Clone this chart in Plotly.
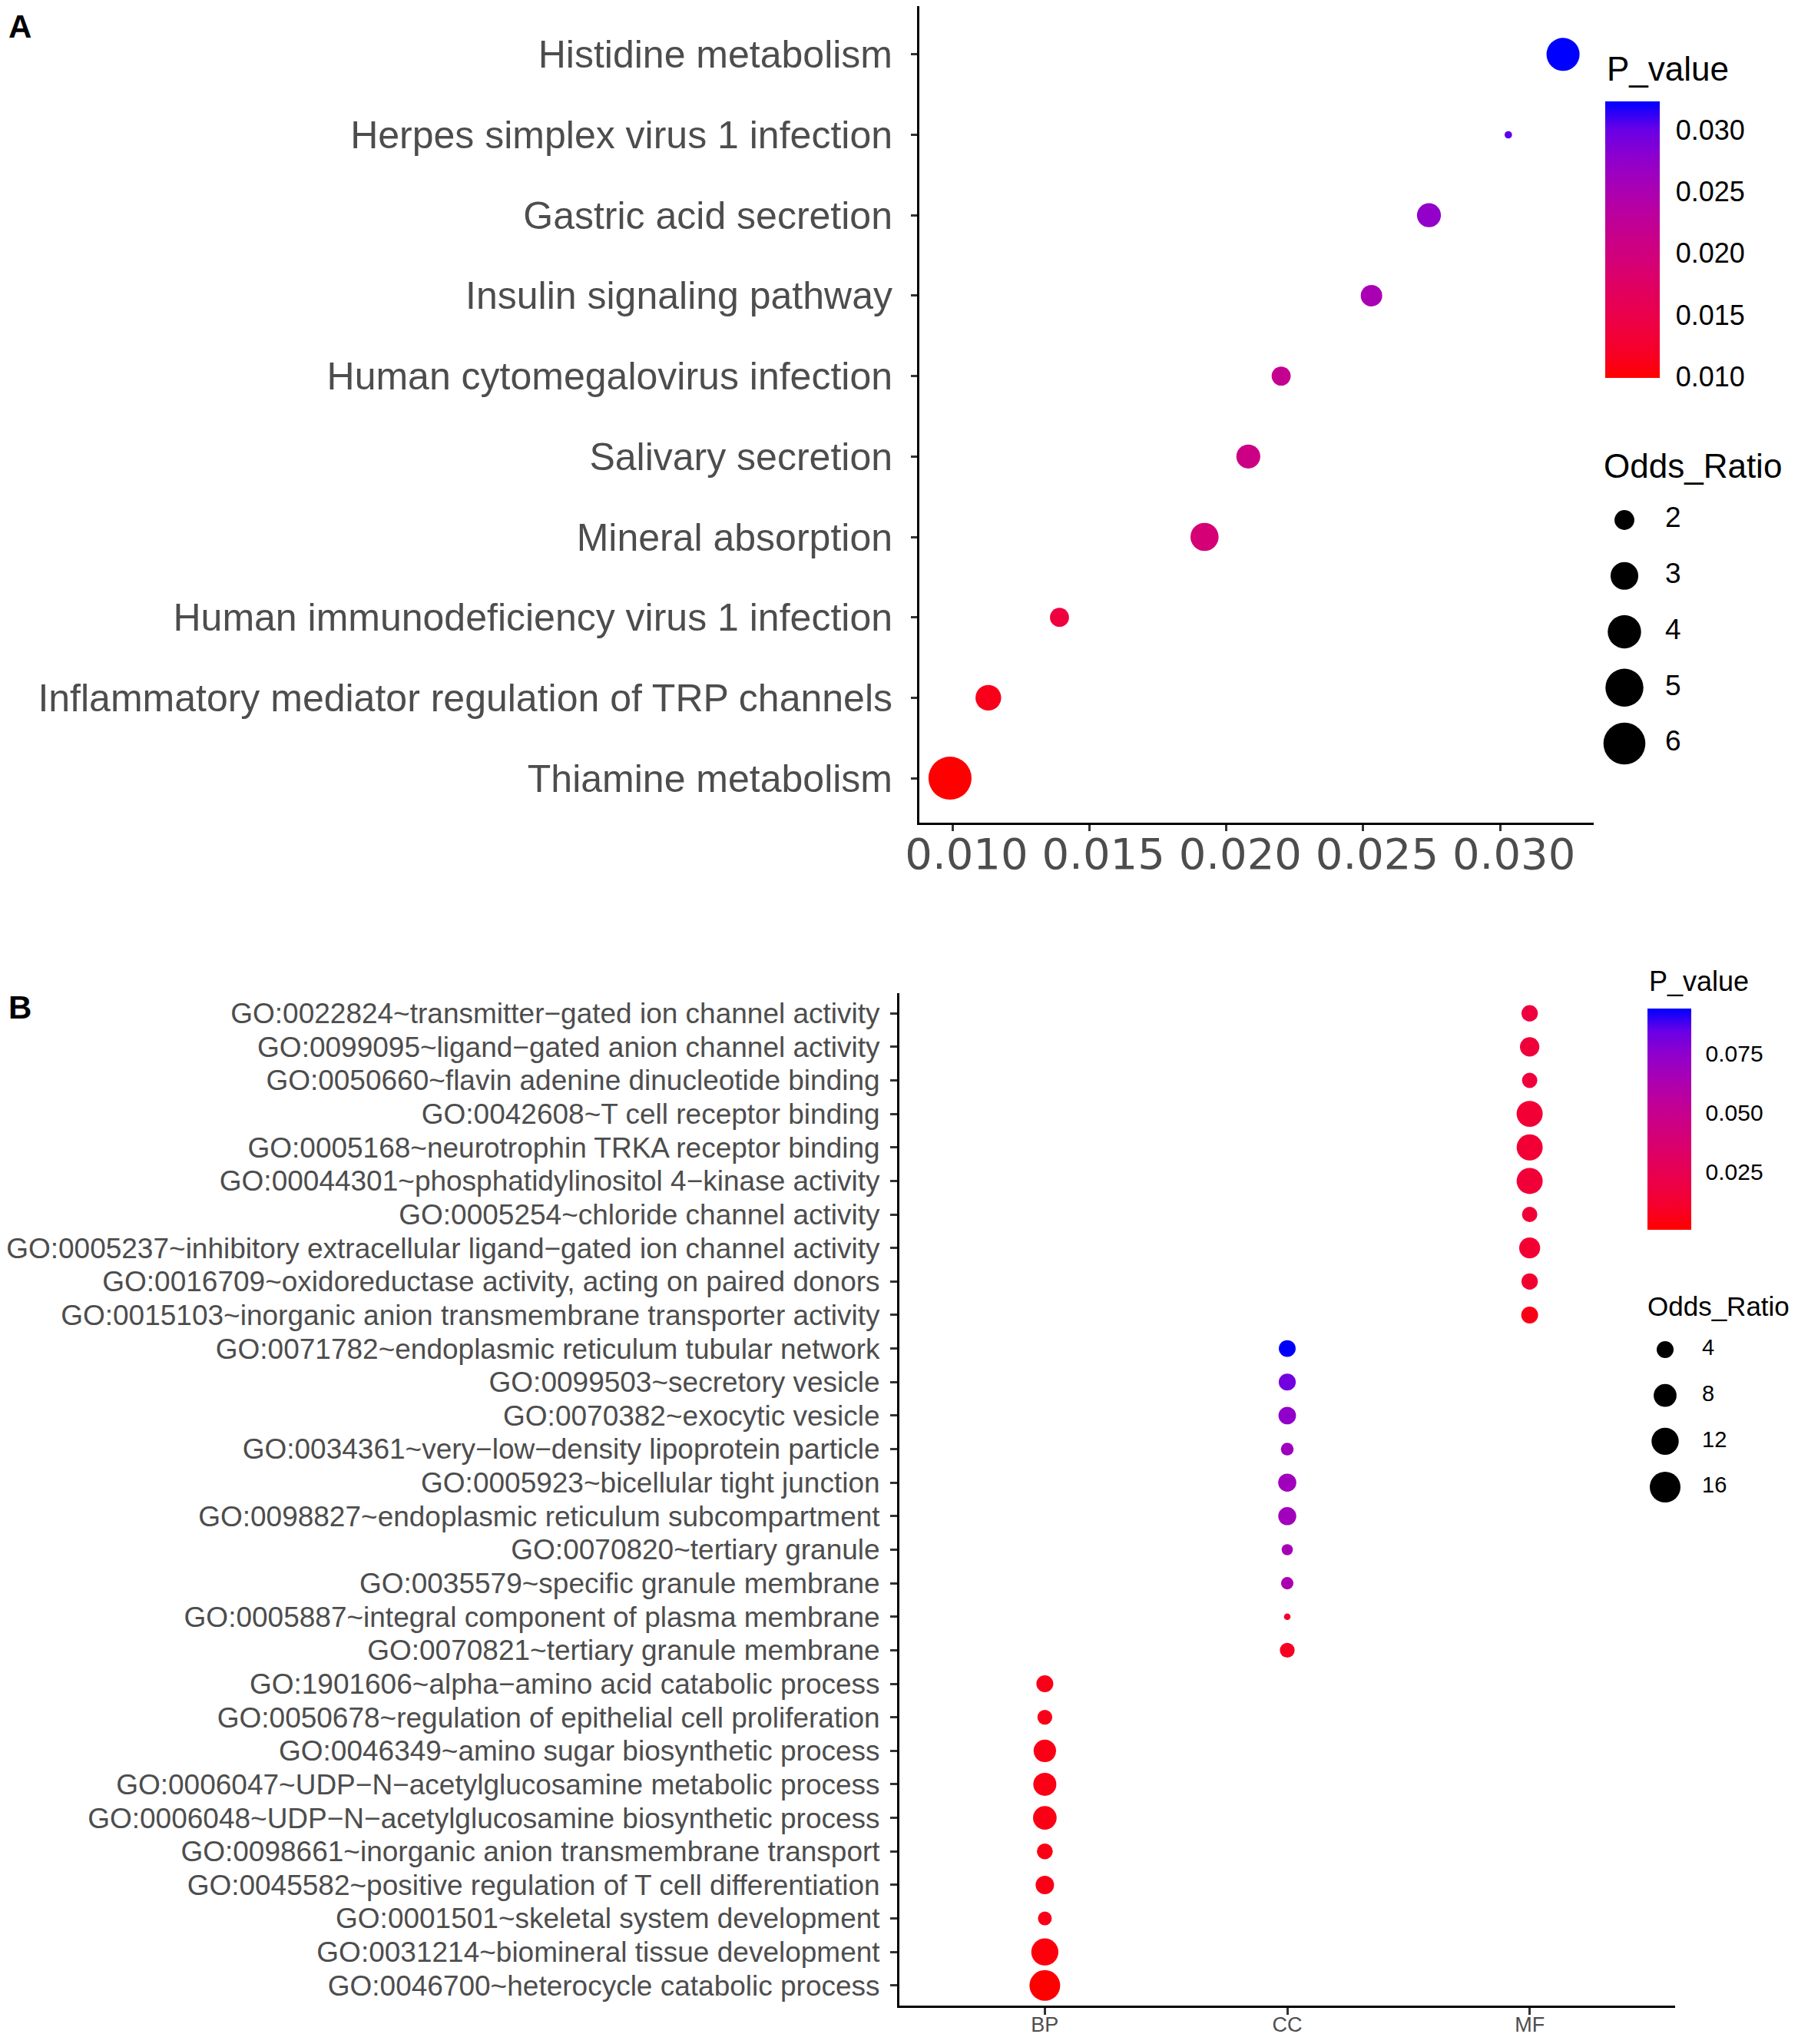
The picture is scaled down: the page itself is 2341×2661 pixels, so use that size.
import math
import plotly.graph_objects as go

# ---- panel A: KEGG pathways (top to bottom) ----
pathways = [
    "Histidine metabolism",
    "Herpes simplex virus 1 infection",
    "Gastric acid secretion",
    "Insulin signaling pathway",
    "Human cytomegalovirus infection",
    "Salivary secretion",
    "Mineral absorption",
    "Human immunodeficiency virus 1 infection",
    "Inflammatory mediator regulation of TRP channels",
    "Thiamine metabolism",
]
pathway_p = [0.0323, 0.0303, 0.0274, 0.0253, 0.0220, 0.0208, 0.0192, 0.0139, 0.0113, 0.0099]
pathway_or = [3.95, 1.41, 2.46, 2.17, 1.93, 2.46, 3.06, 1.93, 2.69, 6.29]
pathway_xticks = [0.010, 0.015, 0.020, 0.025, 0.030]
pathway_cbar_ticks = [0.010, 0.015, 0.020, 0.025, 0.030]
pathway_or_keys = [2, 3, 4, 5, 6]

# ---- panel B: GO terms (top to bottom) ----
mf_terms = [
    "GO:0022824~transmitter\u2212gated ion channel activity",
    "GO:0099095~ligand\u2212gated anion channel activity",
    "GO:0050660~flavin adenine dinucleotide binding",
    "GO:0042608~T cell receptor binding",
    "GO:0005168~neurotrophin TRKA receptor binding",
    "GO:00044301~phosphatidylinositol 4\u2212kinase activity",
    "GO:0005254~chloride channel activity",
    "GO:0005237~inhibitory extracellular ligand\u2212gated ion channel activity",
    "GO:0016709~oxidoreductase activity, acting on paired donors",
    "GO:0015103~inorganic anion transmembrane transporter activity",
]
mf_p = [0.017, 0.016, 0.016, 0.014, 0.014, 0.015, 0.015, 0.013, 0.012, 0.005]
mf_or = [3.73, 5.48, 3.26, 10.9, 10.9, 10.9, 3.26, 6.53, 3.73, 4.0]

cc_terms = [
    "GO:0071782~endoplasmic reticulum tubular network",
    "GO:0099503~secretory vesicle",
    "GO:0070382~exocytic vesicle",
    "GO:0034361~very\u2212low\u2212density lipoprotein particle",
    "GO:0005923~bicellular tight junction",
    "GO:0098827~endoplasmic reticulum subcompartment",
    "GO:0070820~tertiary granule",
    "GO:0035579~specific granule membrane",
    "GO:0005887~integral component of plasma membrane",
    "GO:0070821~tertiary granule membrane",
]
cc_p = [0.094, 0.082, 0.074, 0.069, 0.068, 0.068, 0.066, 0.064, 0.011, 0.008]
cc_or = [3.96, 4.08, 4.33, 2.28, 4.63, 4.63, 1.87, 2.19, 1.33, 3.00]

bp_terms = [
    "GO:1901606~alpha\u2212amino acid catabolic process",
    "GO:0050678~regulation of epithelial cell proliferation",
    "GO:0046349~amino sugar biosynthetic process",
    "GO:0006047~UDP\u2212N\u2212acetylglucosamine metabolic process",
    "GO:0006048~UDP\u2212N\u2212acetylglucosamine biosynthetic process",
    "GO:0098661~inorganic anion transmembrane transport",
    "GO:0045582~positive regulation of T cell differentiation",
    "GO:0001501~skeletal system development",
    "GO:0031214~biomineral tissue development",
    "GO:0046700~heterocycle catabolic process",
]
bp_p = [0.006, 0.006, 0.005, 0.005, 0.005, 0.005, 0.005, 0.006, 0.003, 0.0006]
bp_or = [4.0, 3.04, 7.71, 8.14, 8.6, 3.51, 4.86, 2.64, 11.94, 16.0]

go_classes = ["BP", "CC", "MF"]
go_cbar_ticks = [0.025, 0.050, 0.075]
go_or_keys = [4, 8, 12, 16]

# the page has an 8px body margin, so the figure is made smaller to fit the window
PAGE_W, PAGE_H = 2341, 2661
OFF = 8
W, H = PAGE_W - 2 * OFF, PAGE_H - 2 * OFF
FONT = "Liberation Sans, Arial, sans-serif"
GREY = "#4d4d4d"


def fx(px):
    return (px - OFF) / W


def fy(px):
    return 1 - (px - OFF) / H


# red -> blue gradient interpolated in Lab, like ggplot's scale_colour_gradient
def _lin(c):
    c = c / 255
    return c / 12.92 if c <= 0.04045 else ((c + 0.055) / 1.055) ** 2.4


def _f(t):
    return t ** (1 / 3) if t > 0.008856 else 7.787 * t + 16 / 116


def _finv(t):
    return t ** 3 if t ** 3 > 0.008856 else (t - 16 / 116) / 7.787


def rgb_to_lab(rgb):
    r, g, b = (_lin(c) for c in rgb)
    x = (0.4124 * r + 0.3576 * g + 0.1805 * b) / 0.95047
    y = 0.2126 * r + 0.7152 * g + 0.0722 * b
    z = (0.0193 * r + 0.1192 * g + 0.9505 * b) / 1.08883
    return 116 * _f(y) - 16, 500 * (_f(x) - _f(y)), 200 * (_f(y) - _f(z))


def lab_to_rgb(L, a, b):
    fy_ = (L + 16) / 116
    x = _finv(fy_ + a / 500) * 0.95047
    y = _finv(fy_)
    z = _finv(fy_ - b / 200) * 1.08883
    r = 3.2406 * x - 1.5372 * y - 0.4986 * z
    g = -0.9689 * x + 1.8758 * y + 0.0415 * z
    bl = 0.0557 * x - 0.2040 * y + 1.0570 * z

    def gam(c):
        c = c * 12.92 if c <= 0.0031308 else 1.055 * max(c, 0) ** (1 / 2.4) - 0.055
        return int(round(min(max(c, 0), 1) * 255))

    return "rgb(%d,%d,%d)" % (gam(r), gam(g), gam(bl))


lo_lab = rgb_to_lab((255, 0, 0))
hi_lab = rgb_to_lab((0, 0, 255))
red_blue = []
for i in range(11):
    t = i / 10
    red_blue.append([t, lab_to_rgb(*[lo_lab[k] + (hi_lab[k] - lo_lab[k]) * t for k in range(3)])])


# ggplot-like area scale for point size
def dot_size(v, vals, dmin, dmax):
    lo, hi = min(vals), max(vals)
    return dmin + (dmax - dmin) * math.sqrt(max(v - lo, 0) / (hi - lo))


A_DMIN, A_DMAX = 9.7, 56
B_DMIN, B_DMAX = 8.6, 40

go_terms = mf_terms + cc_terms + bp_terms
go_p = mf_p + cc_p + bp_p
go_or = mf_or + cc_or + bp_or
go_class = ["MF"] * len(mf_terms) + ["CC"] * len(cc_terms) + ["BP"] * len(bp_terms)

fig = go.Figure()

fig.add_trace(go.Scatter(
    x=pathway_p, y=pathways, mode="markers",
    marker=dict(size=[dot_size(v, pathway_or, A_DMIN, A_DMAX) for v in pathway_or],
                color=pathway_p, coloraxis="coloraxis", line_width=0, opacity=1),
    xaxis="x", yaxis="y", showlegend=False,
))

fig.add_trace(go.Scatter(
    x=go_class, y=go_terms, mode="markers",
    marker=dict(size=[dot_size(v, go_or, B_DMIN, B_DMAX) for v in go_or],
                color=go_p, coloraxis="coloraxis2", line_width=0, opacity=1),
    xaxis="x2", yaxis="y2", showlegend=False,
))

# size legends
for keys, vals, dmin, dmax, xa, ya, fs in [
    (pathway_or_keys, pathway_or, A_DMIN, A_DMAX, "x3", "y3", 37),
    (go_or_keys, go_or, B_DMIN, B_DMAX, "x4", "y4", 29),
]:
    fig.add_trace(go.Scatter(
        x=[0] * len(keys), y=list(range(len(keys))), mode="markers",
        marker=dict(size=[dot_size(k, vals, dmin, dmax) for k in keys], color="black",
                    line_width=0, opacity=1),
        xaxis=xa, yaxis=ya, showlegend=False, cliponaxis=False, hoverinfo="skip",
    ))
    fig.add_trace(go.Scatter(
        x=[1] * len(keys), y=list(range(len(keys))), mode="text",
        text=[str(k) for k in keys], textposition="middle right",
        textfont=dict(family=FONT, size=fs, color="black"),
        xaxis=xa, yaxis=ya, showlegend=False, cliponaxis=False, hoverinfo="skip",
    ))

pad_a = 0.05 * (max(pathway_p) - min(pathway_p))

axis_common = dict(showgrid=False, zeroline=False, showline=True, linecolor="black",
                   ticks="outside", tickcolor="#333333", automargin=False)
hidden = dict(visible=False, automargin=False, showgrid=False, zeroline=False)

fig.update_layout(
    template="none",
    width=W, height=H,
    margin=dict(l=0, r=0, t=0, b=0, pad=0),
    paper_bgcolor="white", plot_bgcolor="white",
    showlegend=False,
    font=dict(family=FONT, color="black"),
    xaxis=dict(domain=[fx(1197), fx(2075)], anchor="y",
               range=[min(pathway_p) - pad_a, max(pathway_p) + pad_a],
               tickvals=pathway_xticks, ticktext=["%.3f" % v for v in pathway_xticks],
               linewidth=3, ticklen=8, tickwidth=3, ticklabelstandoff=-18,
               ticklabelshift=18,
               tickfont=dict(family="DejaVu Sans", size=56, color=GREY),
               **axis_common),
    yaxis=dict(domain=[fy(1071), fy(8)], anchor="x",
               type="category", categoryarray=pathways[::-1],
               tickmode="array", tickvals=pathways,
               range=[-0.6 + 5 / 106.8, len(pathways) - 0.4],
               linewidth=3, ticklen=8, tickwidth=3, ticklabelstandoff=14,
               tickfont=dict(family=FONT, size=50, color=GREY),
               **axis_common),
    xaxis2=dict(domain=[fx(1171), fx(2181)], anchor="y2",
                type="category", categoryarray=go_classes,
                tickmode="array", tickvals=go_classes,
                range=[-0.6, len(go_classes) - 0.4],
                linewidth=3, ticklen=9, tickwidth=3, ticklabelstandoff=-10,
                tickfont=dict(family=FONT, size=27, color=GREY),
                **axis_common),
    yaxis2=dict(domain=[fy(2611), fy(1293)], anchor="x2",
                type="category", categoryarray=go_terms[::-1],
                tickmode="array", tickvals=go_terms,
                range=[-0.6, len(go_terms) - 0.4],
                linewidth=3, ticklen=9, tickwidth=3, ticklabelstandoff=6,
                tickfont=dict(family=FONT, size=37, color=GREY),
                **axis_common),
    xaxis3=dict(domain=[fx(2115), fx(2168)], range=[0, 1], anchor="y3", **hidden),
    yaxis3=dict(domain=[fy(968), fy(677)], range=[len(pathway_or_keys) - 1, 0],
                anchor="x3", **hidden),
    xaxis4=dict(domain=[fx(2168), fx(2216)], range=[0, 1], anchor="y4", **hidden),
    yaxis4=dict(domain=[fy(1936), fy(1757)], range=[len(go_or_keys) - 1, 0],
                anchor="x4", **hidden),
    coloraxis=dict(
        colorscale=red_blue, cmin=min(pathway_p), cmax=max(pathway_p),
        colorbar=dict(x=fx(2090), xanchor="left", xpad=0, y=fy(132), yanchor="top", ypad=0,
                      len=360, lenmode="pixels", thickness=71, thicknessmode="pixels",
                      outlinewidth=0, tickvals=pathway_cbar_ticks,
                      ticktext=["%.3f" % v for v in pathway_cbar_ticks],
                      ticks="outside", ticklen=14, tickcolor="white",
                      tickfont=dict(family=FONT, size=36, color="black")),
    ),
    coloraxis2=dict(
        colorscale=red_blue, cmin=min(go_p), cmax=max(go_p),
        colorbar=dict(x=fx(2145), xanchor="left", xpad=0, y=fy(1313), yanchor="top", ypad=0,
                      len=288, lenmode="pixels", thickness=57, thicknessmode="pixels",
                      outlinewidth=0, tickvals=go_cbar_ticks,
                      ticktext=["%.3f" % v for v in go_cbar_ticks],
                      ticks="outside", ticklen=13, tickcolor="white",
                      tickfont=dict(family=FONT, size=30, color="black")),
    ),
)

titles = [
    ("A", 9, 34, 42, True),
    ("B", 9, 1311, 42, True),
    ("P_value", 2090, 90, 44, False),
    ("Odds_Ratio", 2086, 606, 44, False),
    ("P_value", 2145, 1278, 36, False),
    ("Odds_Ratio", 2143, 1700, 35, False),
]
for text, x, y, size, bold in titles:
    fig.add_annotation(
        text="<b>%s</b>" % text if bold else text,
        x=fx(x), y=fy(y), xref="paper", yref="paper",
        xanchor="left", yanchor="middle", showarrow=False,
        font=dict(family=FONT, size=size, color="black"),
    )

fig.write_html("out.html")
